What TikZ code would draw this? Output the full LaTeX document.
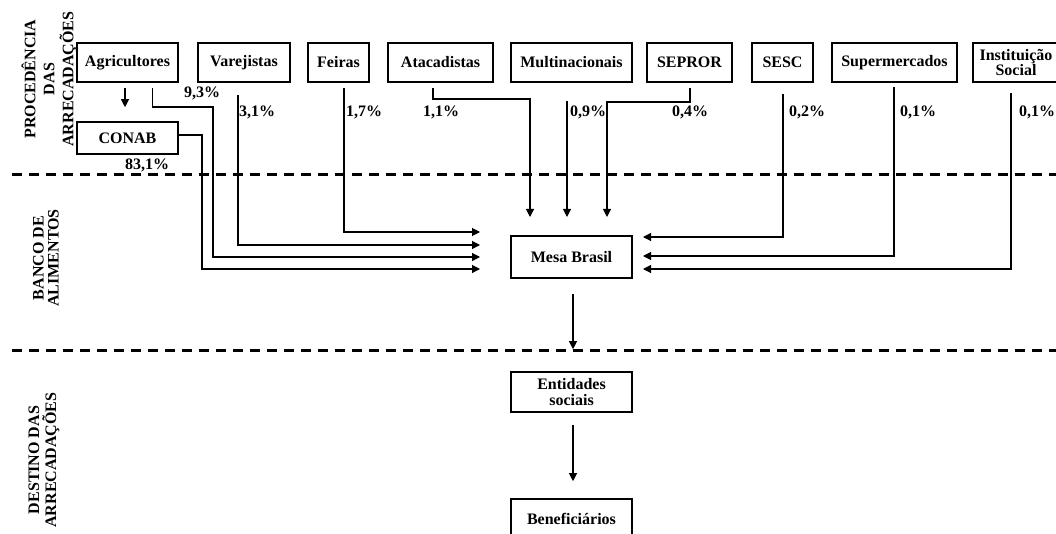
\documentclass[tikz,border=0pt]{standalone}
\usepackage{fontspec}
\setmainfont{Liberation Serif}
\usepackage{tikz}
\usetikzlibrary{arrows.meta}
\tikzset{
    every node/.style={font=\bfseries\fontsize{16}{18}\selectfont, inner sep=1pt}
}
\tikzset{
    box/.style={draw, line width=1.6pt, minimum height=39pt, align=center}
}
\tikzset{
    pct/.style={anchor=center},
    flow/.style={line width=1.1pt, -{Triangle[length=8pt,width=8pt]}},
    sepline/.style={line width=3pt, dash pattern=on 10pt off 7pt}
}

\begin{document}
\begin{tikzpicture}[x=1pt, y=-1pt]
	\useasboundingbox (0,0) rectangle (1056,534);
	\node (agri) [box, minimum width=101pt] at (127.5, 62.5) {Agricultores};
	\node (vare) [box, minimum width=92pt] at (244, 62.5) {Varejistas};
	\node (feir) [box, minimum width=61pt] at (338.5, 62.5) {Feiras};
	\node (atac) [box, minimum width=105pt] at (440.5, 62.5) {Atacadistas};
	\node (mult) [box, minimum width=121pt] at (571.5, 62.5) {Multinacionais};
	\node (sepr) [box, minimum width=85pt] at (689.5, 62.5) {SEPROR};
	\node (sesc) [box, minimum width=61pt] at (782.5, 62.5) {SESC};
	\node (supe) [box, minimum width=125pt] at (894.5, 62.5) {Supermercados};
	\node (inst) [box, minimum width=86pt, font=\bfseries\fontsize{16}{14.5}\selectfont] at (1016, 62.5) {Instituição\\Social};
	\node (conab) [box, minimum width=101pt, minimum height=32pt] at (127.5, 138) {CONAB};
	\node (mesa) [box, minimum width=121pt, minimum height=42pt] at (571.5, 257) {Mesa Brasil};
	\node (enti) [box, minimum width=121pt, minimum height=40pt, font=\bfseries\fontsize{16}{16.5}\selectfont] at (571.5, 392) {Entidades\\sociais};
	\node (bene) [box, minimum width=121pt, minimum height=40pt] at (571.5, 519) {Beneficiários};
	
	\node (proc) [rotate=90, align=center, font=\bfseries\fontsize{16}{19}\selectfont] at (49, 79) {PROCEDÊNCIA\\DAS\\ARRECADAÇÕES};
	\node (banc) [rotate=90, align=center, font=\bfseries\fontsize{16}{15}\selectfont] at (46, 258) {BANCO DE\\ALIMENTOS};
	\node (dest) [rotate=90, align=center, font=\bfseries\fontsize{16}{17}\selectfont] at (44, 460) {DESTINO DAS\\ARRECADAÇÕES};
	
	\node (p1) [pct] at (202, 93) {9,3\%};
	\node (p2) [pct] at (147, 165) {83,1\%};
	\node (p3) [pct] at (257, 112) {3,1\%};
	\node (p4) [pct] at (364, 112) {1,7\%};
	\node (p5) [pct] at (441, 112) {1,1\%};
	\node (p6) [pct] at (588, 112) {0,9\%};
	\node (p7) [pct] at (690, 112) {0,4\%};
	\node (p8) [pct] at (807, 112) {0,2\%};
	\node (p9) [pct] at (918, 112) {0,1\%};
	\node (p10) [pct] at (1037, 112) {0,1\%};
	
	\draw[sepline] (12,175) -- (1056,175);
	\draw[sepline] (12,350) -- (1056,350);
	
	\coordinate (w1) at (480,232); \coordinate (w2) at (480,245);
	\coordinate (w3) at (480,257); \coordinate (w4) at (480,269);
	\coordinate (n1) at (530,217); \coordinate (n2) at (567,217);
	\coordinate (n3) at (607,217);
	\coordinate (e1) at (643,237); \coordinate (e2) at (643,256);
	\coordinate (e3) at (643,269);
	
	\draw[flow] ([xshift=-2.5pt,yshift=-5pt]agri.south) -- ([xshift=-2.5pt,yshift=14pt]conab.north);
	\draw[flow] ([xshift=25pt,yshift=-5pt]agri.south) |- (213,107) |- (w3);
	\draw[flow] ([yshift=3pt]conab.east) -- (202,135) |- (w4);
	\draw[flow] ([xshift=-6pt,yshift=-12pt]vare.south) |- (w2);
	\draw[flow] ([xshift=5.5pt,yshift=-5pt]feir.south) |- (w1);
	\draw[flow] ([xshift=-7.5pt,yshift=-5pt]atac.south) |- (530,99) -- (n1);
	\draw[flow] ([xshift=-4.5pt,yshift=-18pt]mult.south) -- (n2);
	\draw[flow] ([xshift=0.5pt,yshift=-5pt]sepr.south) |- (607,102) -- (n3);
	\draw[flow] ([xshift=0.5pt,yshift=-11pt]sesc.south) |- (e1);
	\draw[flow] ([xshift=-0.5pt,yshift=-4pt]supe.south) |- (e2);
	\draw[flow] ([xshift=-5pt,yshift=-10pt]inst.south) |- (e3);
	
	\draw[flow] ([xshift=1.5pt,yshift=-15pt]mesa.south) -- ([xshift=1.5pt,yshift=22pt]enti.north);
	\draw[flow] ([xshift=1.5pt,yshift=-12pt]enti.south) -- ([xshift=1.5pt,yshift=17pt]bene.north);
\end{tikzpicture}
\end{document}
